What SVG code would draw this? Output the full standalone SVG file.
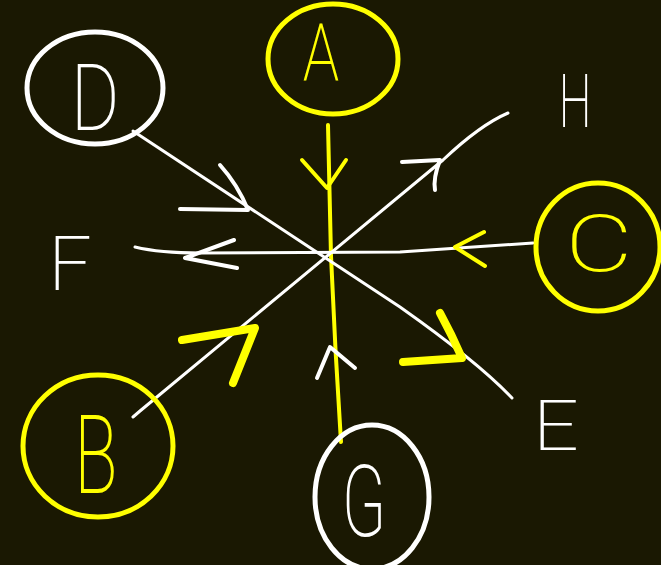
<svg xmlns="http://www.w3.org/2000/svg" width="661" height="565" viewBox="0 0 661 565">
<style>
.bg{fill:#1a1802}
.cw{fill:none;stroke:#ffffff;stroke-width:5;stroke-linecap:round;stroke-linejoin:round}
.cy{fill:none;stroke:#ffff00;stroke-width:5;stroke-linecap:round;stroke-linejoin:round}
.lw{fill:none;stroke:#ffffff;stroke-width:3;stroke-linecap:round;stroke-linejoin:round}
.ly{fill:none;stroke:#ffff00;stroke-width:4;stroke-linecap:round;stroke-linejoin:round}
.aw{fill:none;stroke:#ffffff;stroke-width:4;stroke-linecap:round;stroke-linejoin:round}
.ay{fill:none;stroke:#ffff00;stroke-width:4;stroke-linecap:round;stroke-linejoin:round}
.ayb{fill:none;stroke:#ffff00;stroke-width:8;stroke-linecap:round;stroke-linejoin:round}
.tw{fill:#ffffff;font-family:Roboto,"Liberation Sans",sans-serif;font-weight:200;text-anchor:middle}
.ty{fill:#ffff00;font-family:Roboto,"Liberation Sans",sans-serif;font-weight:200;text-anchor:middle}
</style>
<rect class="bg" x="0" y="0" width="661" height="565"/>
<g id="connectors">
  <path class="ly" d="M328,125 L331,256 Q335,350 341,442"/>
  <path class="ay" d="M302,160 L327,188 L346,160"/>
  <path class="aw" d="M317,378 L330,347 L355,368"/>
  <path class="lw" d="M133,131 L400,307 Q478,362 512,398"/>
  <path class="aw" d="M180,209 L248,210 Q238,185 220,165"/>
  <path class="ayb" d="M403,362 L462,358 Q452,335 440,313"/>
  <path class="lw" d="M135,247 Q160,253 200,253 L400,252 L533,243"/>
  <path class="ay" d="M484,232 L455,247 L485,266"/>
  <path class="aw" d="M234,240 L185,258 L237,268"/>
  <path class="lw" d="M133,417 L140,411 L443,160 Q480,125 508,113"/>
  <path class="aw" d="M402,162 L440,160 Q433,178 435,190"/>
  <path class="ayb" d="M182,340 L255,328 L233,383"/>
</g>
<g id="node-A">
  <ellipse class="cy" cx="333" cy="59" rx="65" ry="55"/>
  <text class="ty" font-size="80" transform="translate(321,81) scale(0.75,1)">A</text>
</g>
<g id="node-D">
  <ellipse class="cw" cx="95" cy="88" rx="68" ry="56"/>
  <text class="tw" font-size="93" transform="translate(95,130) scale(0.8,1)">D</text>
</g>
<g id="node-C">
  <ellipse class="cy" cx="598" cy="247" rx="62" ry="64"/>
  <text class="ty" font-size="80" transform="translate(599,271) scale(1.3,1)">C</text>
</g>
<g id="node-B">
  <ellipse class="cy" cx="98" cy="446" rx="75" ry="71"/>
  <text class="ty" font-size="110" transform="translate(96,493) scale(0.65,1)">B</text>
</g>
<g id="node-G">
  <ellipse class="cw" cx="372" cy="497" rx="57" ry="72"/>
  <text class="tw" font-size="100" transform="translate(364,536) scale(0.65,1)">G</text>
</g>
<g id="node-F">
  <text class="tw" font-size="76" transform="translate(70,290)">F</text>
</g>
<g id="node-H">
  <text class="tw" font-size="75" transform="translate(575,127) scale(0.62,1)">H</text>
</g>
<g id="node-E">
  <text class="tw" font-size="70" transform="translate(556,450) scale(1.15,1)">E</text>
</g>
</svg>
